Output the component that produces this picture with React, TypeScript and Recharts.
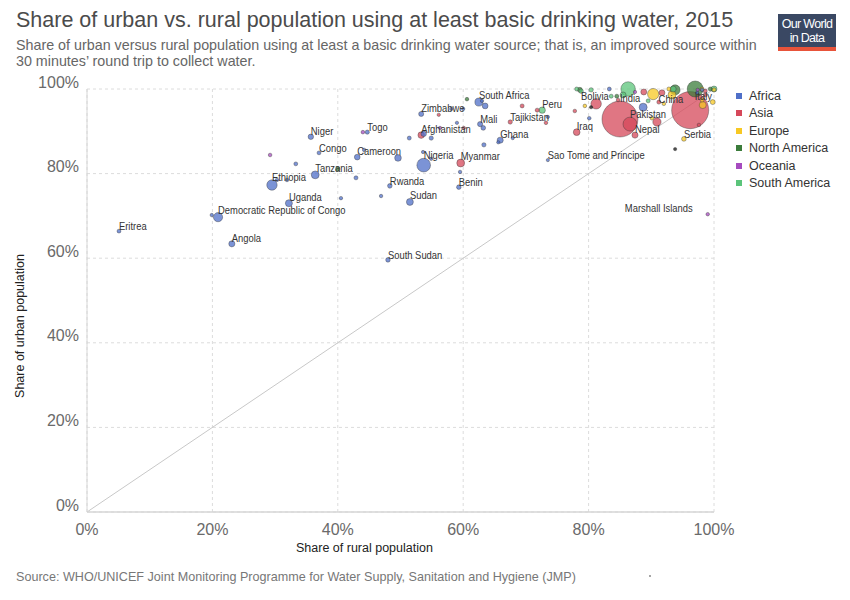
import { ScatterChart, Scatter, XAxis, YAxis, ZAxis, CartesianGrid, ReferenceLine } from 'recharts';

// each row: country, rural share (%), urban share (%), population (millions)
type Row = [string, number, number, number];

const africa: Row[] = [
  ['Eritrea', 5.1, 66.4, 4.8],
  ['Angola', 23.1, 63.4, 27.9],
  ['Democratic Republic of Congo', 20.9, 69.7, 76],
  ['', 19.9, 70.2, 1.5],
  ['Ethiopia', 29.5, 77.3, 100],
  ['Uganda', 32.2, 73.0, 40],
  ['Tanzania', 36.4, 79.7, 53],
  ['Congo', 37.0, 84.9, 4.9],
  ['Niger', 35.7, 88.7, 20],
  ['', 33.3, 82.3, 5],
  ['', 30.3, 78.5, 2],
  ['', 31.9, 78.5, 3],
  ['Togo', 44.7, 89.8, 7.4],
  ['Cameroon', 43.1, 83.9, 23],
  ['', 44.2, 85.6, 2],
  ['', 42.9, 79.0, 6],
  ['', 40.5, 74.2, 2],
  ['', 46.9, 74.7, 2],
  ['Rwanda', 48.3, 77.1, 11.4],
  ['Sudan', 51.5, 73.3, 38.6],
  ['South Sudan', 48.0, 59.6, 10.7],
  ['', 49.6, 83.7, 35],
  ['Nigeria', 53.7, 82.0, 181],
  ['', 53.6, 85.1, 1],
  ['', 54.9, 83.5, 1],
  ['Zimbabwe', 53.3, 94.1, 15.8],
  ['', 53.7, 89.4, 20],
  ['', 51.4, 88.4, 6],
  ['', 54.9, 88.4, 8],
  ['', 58.1, 95.3, 1],
  ['', 60.0, 95.3, 1],
  ['', 59.0, 92.0, 1],
  ['', 59.5, 80.4, 2],
  ['Benin', 59.3, 76.8, 10.6],
  ['South Africa', 62.5, 96.9, 55.4],
  ['', 63.5, 96.0, 24],
  ['', 63.0, 97.2, 1],
  ['Mali', 62.7, 91.7, 17.4],
  ['', 63.2, 90.8, 12],
  ['', 63.3, 86.8, 8],
  ['Ghana', 65.9, 87.9, 27.8],
  ['', 65.6, 87.4, 1],
  ['', 67.9, 88.4, 1],
  ['', 73.5, 93.4, 1],
  ['Sao Tome and Principe', 73.5, 83.2, 0.2],
  ['', 80.1, 93.1, 3],
  ['', 83.3, 100, 5],
  ['', 88.7, 95.7, 55],
  ['', 97.3, 99.1, 2],
  ['', 98.1, 99.8, 3],
];

const asia: Row[] = [
  ['Afghanistan', 53.3, 89.1, 33.7],
  ['', 56.1, 93.9, 1],
  ['', 60.1, 90.8, 1],
  ['Myanmar', 59.6, 82.5, 52.7],
  ['Tajikistan', 67.5, 92.2, 8.5],
  ['', 69.4, 96.0, 6],
  ['', 71.8, 95.0, 6],
  ['', 73.2, 92.0, 3],
  ['Iraq', 78.1, 89.8, 36],
  ['', 77.8, 94.8, 3],
  ['', 81.2, 96.5, 102],
  ['', 84.7, 97.4, 3],
  ['India', 85.0, 92.9, 1310],
  ['Pakistan', 86.6, 91.7, 189],
  ['Nepal', 87.4, 89.1, 28],
  ['', 90.9, 92.2, 60],
  ['China', 96.2, 95.0, 1397],
  ['', 91.7, 99.1, 26],
  ['', 98.6, 98.6, 6],
  ['', 88.8, 99.3, 26],
  ['', 91.2, 96.9, 6],
  ['', 97.6, 91.5, 3],
  ['', 98.6, 99.5, 6],
];

const europe: Row[] = [
  ['', 90.3, 98.8, 120],
  ['', 79.4, 96.0, 3],
  ['', 93.3, 98.6, 55],
  ['Serbia', 95.2, 88.2, 12],
  ['', 98.1, 100, 6],
  ['Italy', 98.2, 96.2, 40],
  ['', 99.8, 96.9, 15],
  ['', 98.1, 97.4, 6],
  ['', 92.0, 96.5, 3],
  ['', 92.8, 100, 6],
  ['', 90.1, 93.1, 3],
  ['', 100, 99.8, 6],
];

const northAmerica: Row[] = [
  ['', 97.0, 100, 252],
  ['', 93.8, 99.8, 92],
  ['', 40.0, 81.1, 10.7],
  ['', 78.6, 99.8, 15],
  ['', 84.5, 98.3, 6],
  ['', 60.6, 97.6, 3],
  ['', 99.4, 100, 6],
];

const oceania: Row[] = [
  ['', 29.2, 84.4, 3],
  ['', 44.0, 89.8, 3],
  ['', 56.3, 90.8, 1],
  ['Marshall Islands', 99.0, 70.4, 2],
  ['', 97.4, 99.8, 1],
  ['', 87.4, 99.3, 1],
];

const southAmerica: Row[] = [
  ['Peru', 72.6, 95.0, 31],
  ['Bolivia', 78.8, 99.5, 10.7],
  ['', 78.1, 100, 6],
  ['', 80.4, 99.8, 9],
  ['', 86.3, 100, 205],
  ['', 85.5, 98.6, 26],
  ['', 83.6, 98.3, 6],
  ['', 89.5, 97.2, 6],
  ['', 93.5, 100, 26],
  ['', 100, 100, 26],
];

const unassigned: Row[] = [
  ['', 80.4, 95.7, 1],
  ['', 93.8, 85.8, 1],
];

const regionNames = ['Africa', 'Asia', 'Europe', 'North America', 'Oceania', 'South America'];
const regionRows = [africa, asia, europe, northAmerica, oceania, southAmerica];
const axisTicks = [0, 20, 40, 60, 80, 100];

const labelled = [
  'Eritrea', 'Angola', 'Democratic Republic of Congo', 'Ethiopia', 'Uganda', 'Tanzania', 'Congo',
  'Niger', 'Togo', 'Cameroon', 'Rwanda', 'Sudan', 'South Sudan', 'Nigeria', 'Zimbabwe',
  'Afghanistan', 'Myanmar', 'Benin', 'South Africa', 'Mali', 'Ghana', 'Tajikistan', 'Peru',
  'Bolivia', 'Iraq', 'India', 'China', 'Pakistan', 'Nepal', 'Italy', 'Serbia',
  'Sao Tome and Principe', 'Marshall Islands',
];

const COLORS: Record<string, string> = {
  Africa: '#4f6fc8',
  Asia: '#d6485a',
  Europe: '#f7c823',
  'North America': '#3b7c3b',
  Oceania: '#a64bbf',
  'South America': '#5bc47a',
};

// labels that OWID moved off the default top-right slot
const labelPlacement: Record<string, { dx: number; dy: number; anchor?: string }> = {
  China: { dx: -7, dy: -7, anchor: 'end' },
  Bolivia: { dx: 0, dy: 9 },
  Italy: { dx: -8, dy: -5 },
  'Marshall Islands': { dx: -15, dy: -2, anchor: 'end' },
};

const points = [
  ...regionRows.flatMap((rows, i) =>
    rows.map(([name, rural, urban, pop]) => ({ name, rural, urban, pop, region: regionNames[i] }))
  ),
  ...unassigned.map(([name, rural, urban, pop]) => ({ name, rural, urban, pop, region: 'Other' })),
].sort((a, b) => b.pop - a.pop);

const labelPoints = points.filter(p => labelled.includes(p.name));

const FONT = '"Liberation Sans", Arial, sans-serif';

const radiusOf = (props: any) =>
  props.width ? props.width / 2 : Math.sqrt(Math.max(props.size || 0, 0) / Math.PI);

const Bubble = (props: any) => {
  const { cx, cy, payload } = props;
  if (cx == null || cy == null) return null;
  const r = radiusOf(props);
  const fill = COLORS[payload.region] ?? '#111';
  return (
    <circle
      cx={cx}
      cy={cy}
      r={r}
      fill={fill}
      fillOpacity={0.75}
      stroke="#333"
      strokeOpacity={0.55}
      strokeWidth={0.7}
    />
  );
};

// no narrow face installed, so squeeze the labels horizontally
const Tag = (props: any) => {
  const { cx, cy, payload } = props;
  if (cx == null || cy == null) return null;
  const r = radiusOf(props);
  const p = labelPlacement[payload.name];
  const x = p ? cx + p.dx : cx;
  const y = p ? cy + p.dy : cy - r + 1;
  return (
    <text
      transform={`translate(${x},${y}) scale(0.84,1)`}
      textAnchor={(p?.anchor as any) ?? 'start'}
      fontSize={11.2}
      fill="#333"
      fontFamily={FONT}
    >
      {payload.name}
    </text>
  );
};

export default function App() {
  return (
    <div style={{ position: 'absolute', left: 0, top: 0, width: 850, height: 600, background: '#fff', fontFamily: FONT }}>
      <div style={{ position: 'absolute', left: 16, top: 8, fontSize: 21.5, color: '#4b4b4b', whiteSpace: 'nowrap' }}>
        Share of urban vs. rural population using at least basic drinking water, 2015
      </div>
      <div style={{ position: 'absolute', left: 16, top: 38, fontSize: 14.3, lineHeight: '15.5px', color: '#666', whiteSpace: 'nowrap' }}>
        Share of urban versus rural population using at least a basic drinking water source; that is, an improved source within
        <br />
        30 minutes’ round trip to collect water.
      </div>

      <div style={{ position: 'absolute', left: 778, top: 14, width: 58, height: 37, background: '#3a4863' }}>
        <div style={{ position: 'absolute', left: 0, top: 3, width: 58, color: '#fff', fontSize: 12.5, lineHeight: '14px', textAlign: 'center', letterSpacing: -0.7 }}>
          Our World
        </div>
        <div style={{ position: 'absolute', left: 0, top: 17, width: 58, color: '#fff', fontSize: 12.5, lineHeight: '14px', textAlign: 'center', letterSpacing: -0.7 }}>
          in Data
        </div>
        <div style={{ position: 'absolute', left: 0, bottom: 0, width: 58, height: 4, background: '#e8533a' }} />
      </div>

      <ScatterChart width={850} height={600} margin={{ top: 89, right: 136, bottom: 58, left: 27 }}>
        <CartesianGrid strokeDasharray="3 3" stroke="#dcdcdc" />
        <XAxis
          type="number"
          dataKey="rural"
          domain={[0, 100]}
          ticks={axisTicks}
          tickFormatter={v => `${v}%`}
          height={30}
          tickLine={false}
          axisLine={{ stroke: '#d6d6d6', strokeWidth: 1.5 }}
          tick={{ fontSize: 16, fill: '#6a6a6a', fontFamily: FONT, dy: 4 }}
        />
        <YAxis
          type="number"
          dataKey="urban"
          domain={[0, 100]}
          ticks={axisTicks}
          tickFormatter={v => `${v}%`}
          width={60}
          tickLine={false}
          axisLine={{ stroke: '#d6d6d6', strokeWidth: 1 }}
          tick={{ fontSize: 16, fill: '#6a6a6a', fontFamily: FONT, dy: -7 }}
        />
        <ZAxis type="number" dataKey="pop" domain={[0, 1500]} range={[8, 1158]} />
        <ReferenceLine
          segment={[{ x: 0, y: 0 }, { x: 100, y: 100 }]}
          stroke="#c8c8c8"
          strokeWidth={1}
          ifOverflow="extendDomain"
        />
        <Scatter data={points} shape={Bubble} isAnimationActive={false} />
        <Scatter data={labelPoints} shape={Tag} isAnimationActive={false} />
      </ScatterChart>

      <div style={{ position: 'absolute', left: 733, top: 87 }}>
        {regionNames.map(name => (
          <div key={name} style={{ display: 'flex', alignItems: 'center', height: 17.5 }}>
            <div style={{ width: 6, height: 6, background: COLORS[name], marginRight: 7, marginLeft: 3 }} />
            <span style={{ fontSize: 12.5, color: '#333' }}>{name}</span>
          </div>
        ))}
      </div>

      <div style={{ position: 'absolute', left: 296, top: 541, fontSize: 12.5, color: '#222', whiteSpace: 'nowrap' }}>
        Share of rural population
      </div>
      <div
        style={{
          position: 'absolute',
          left: 20,
          top: 326,
          fontSize: 12.5,
          color: '#222',
          whiteSpace: 'nowrap',
          transform: 'translate(-50%, -50%) rotate(-90deg)',
        }}
      >
        Share of urban population
      </div>
      <div style={{ position: 'absolute', left: 16, top: 570, fontSize: 12.6, color: '#777', whiteSpace: 'nowrap' }}>
        Source: WHO/UNICEF Joint Monitoring Programme for Water Supply, Sanitation and Hygiene (JMP)
      </div>
      <div style={{ position: 'absolute', left: 649, top: 575, width: 2, height: 2, borderRadius: 1, background: '#888' }} />
    </div>
  );
}
